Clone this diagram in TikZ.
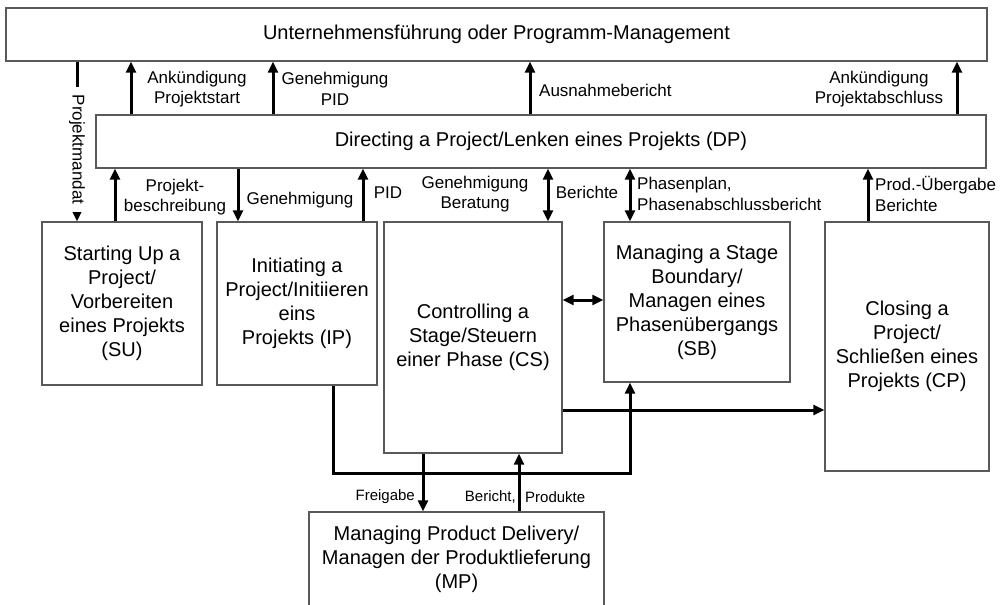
\documentclass[tikz,border=0pt]{standalone}
\usepackage{fontspec}
\setmainfont{Liberation Sans}
\usetikzlibrary{arrows.meta}
\begin{document}
\begin{tikzpicture}[x=1pt,y=-1pt,
  procbox/.style={draw=black!65,line width=1.3pt,fill=white,inner sep=0pt,
    align=center,font=\fontsize{20}{24}\selectfont},
  flow/.style={line width=3pt,-{Triangle[length=11pt,width=10pt]}},
  both/.style={line width=3pt,{Triangle[length=11pt,width=10pt]}-{Triangle[length=11pt,width=10pt]}},
  lbl/.style={inner sep=0pt,align=center,font=\fontsize{17}{20.5}\selectfont},
  lbll/.style={lbl,align=left},
  small/.style={inner sep=0pt,font=\fontsize{15}{18}\selectfont}]
\useasboundingbox (0,0) rectangle (1005,605);

% process boxes, corners given as left/top and right/bottom
\node[procbox,minimum width=981pt,minimum height=53pt] (UF) at (496.5,34.5)
  {Unternehmensführung oder Programm-Management};
\node[procbox,minimum width=890pt,minimum height=53pt] (DP) at (541,141.5)
  {Directing a Project/Lenken eines Projekts (DP)};
\node[procbox,minimum width=160pt,minimum height=163pt] (SU) at (122,303.5)
  {Starting Up a\\Project/\\Vorbereiten\\eines Projekts\\(SU)};
\node[procbox,minimum width=160pt,minimum height=163pt] (IP) at (297,303.5)
  {Initiating a\\Project/Initiieren\\eins\\Projekts (IP)};
\node[procbox,minimum width=178pt,minimum height=231pt] (CS) at (473,337.5)
  {Controlling a\\Stage/Steuern\\einer Phase (CS)};
\node[procbox,minimum width=186pt,minimum height=160pt] (SB) at (697,302)
  {Managing a Stage\\Boundary/\\Managen eines\\Phasenübergangs\\(SB)};
\node[procbox,minimum width=164pt,minimum height=249pt] (CP) at (907,346.5)
  {Closing a\\Project/\\Schließen eines\\Projekts (CP)};
\node[procbox,minimum width=295pt,minimum height=94pt] (MP) at (456.5,559)
  {Managing Product Delivery/\\Managen der Produktlieferung\\(MP)};

% reports between DP and the corporate level
\draw[flow] (DP.north -| 131,0) -- (UF.south -| 131,0);
\draw[flow] (DP.north -| 273,0) -- (UF.south -| 273,0);
\draw[flow] (DP.north -| 530,0) -- (UF.south -| 530,0);
\draw[flow] (DP.north -| 957,0) -- (UF.south -| 957,0);
\node[lbl] (l1) at (197,89) {Ankündigung\\Projektstart};
\node[lbl] (l2) at (335,89) {Genehmigung\\PID};
\node[lbl,anchor=west] (l3) at (539,90) {Ausnahmebericht};
\node[lbl] (l4) at (879,89) {Ankündigung\\Projektabschluss};

% project mandate from the corporate level down to SU
\draw[flow] (UF.south -| 77,0) -- (SU.north -| 77,0)
  node[pos=0.55,fill=white,rotate=-90,inner xsep=8pt,inner ysep=1pt,
       font=\fontsize{17}{20}\selectfont] (lm) {Projektmandat};

% flows between DP and the processes
\draw[flow] (SU.north -| 115,0) -- (DP.south -| 115,0);
\draw[flow] (DP.south -| 238,0) -- (IP.north -| 238,0);
\draw[flow] (IP.north -| 363,0) -- (DP.south -| 363,0);
\draw[both] (DP.south -| 548,0) -- (CS.north -| 548,0);
\draw[both] (DP.south -| 630,0) -- (SB.north -| 630,0);
\draw[flow] (CP.north -| 868,0) -- (DP.south -| 868,0);
\node[lbl] (l5) at (175,197) {Projekt-\\beschreibung};
\node[lbl] (l6) at (300,200) {Genehmigung};
\node[lbl] (l7) at (388,193) {PID};
\node[lbl] (l8) at (475,194) {Genehmigung\\Beratung};
\node[lbl] (l9) at (587,192) {Berichte};
\node[lbll,anchor=west] (l10) at (637,194) {Phasenplan,\\Phasenabschlussbericht};
\node[lbll,anchor=west] (l11) at (875,194) {Prod.-Übergabe\\Berichte};

% flows between the processes
\draw[both] (CS.east |- 0,300) -- (SB.west |- 0,300);
\draw[flow] (CS.east |- 0,410) -- (CP.west |- 0,410);
\draw[flow] (IP.south -| 333,0) |- (630,473) -- (SB.south -| 630,0);
\draw[flow] (CS.south -| 423,0) -- (MP.north -| 423,0);
\draw[flow] (MP.north -| 519,0) -- (CS.south -| 519,0);
\node[small,anchor=east] (l12) at (415,497) {Freigabe};
\node[small,anchor=east] (l13) at (516,497) {Bericht,};
\node[small,anchor=west] (l14) at (525,497) {Produkte};
\end{tikzpicture}
\end{document}
